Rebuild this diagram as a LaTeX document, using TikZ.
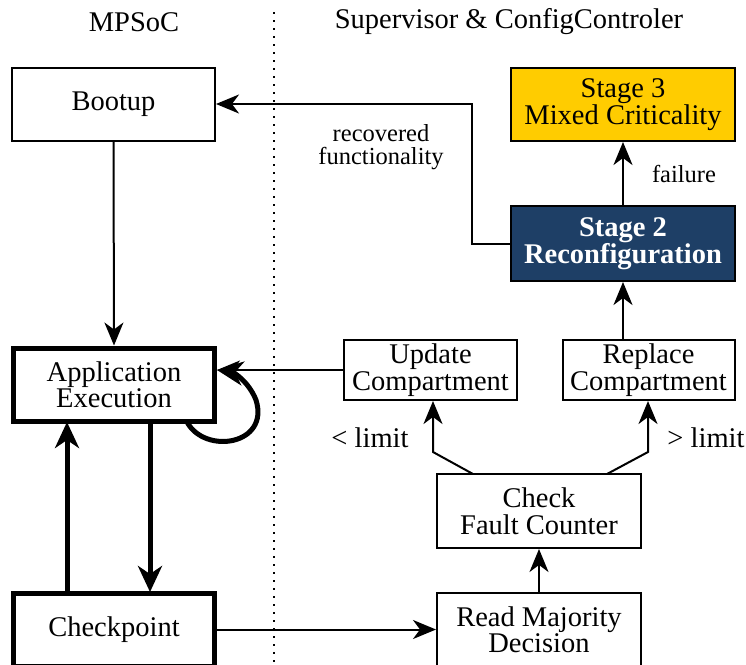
\documentclass[tikz,border=0pt]{standalone}
\usepackage{fontspec}
\setmainfont{Liberation Serif}
\usetikzlibrary{arrows.meta}
\definecolor{stageyellow}{RGB}{255,204,0}
\definecolor{stageblue}{RGB}{30,63,102}
\begin{document}
\begin{tikzpicture}[x=1pt,y=-1pt,
  box/.style={draw, line width=2pt, align=center, inner sep=0pt,
    font=\fontsize{28.5}{26.5}\selectfont},
  heavybox/.style={box, line width=5pt},
  lbl/.style={align=center, inner sep=0pt, font=\fontsize{24.5}{22.5}\selectfont},
  ttl/.style={inner sep=0pt, font=\fontsize{28.5}{26.5}\selectfont},
  conn/.style={line width=2pt, -{Stealth[length=23pt,width=19pt,inset=7pt]}},
  heavyconn/.style={line width=5pt, -{Stealth[length=26pt,width=24pt,inset=8pt]}}]
\useasboundingbox (0,0) rectangle (746,664);

\node[ttl] (mpsoc) at (134,22) {MPSoC};
\node[ttl] (sup) at (509,22) {Supervisor \& ConfigControler};
\coordinate (dtop) at (274,12);
\coordinate (dbot) at (274,664);
\draw[line width=2pt, dash pattern=on 2pt off 6pt] (dtop) -- (dbot);

\node[box, minimum width=203pt, minimum height=73pt] (boot) at (113.5,104.5) {Bootup};
\node[box, fill=stageyellow, minimum width=224pt, minimum height=73pt] (s3) at (623,104.5) {Stage 3\\Mixed Criticality};
\node[box, fill=stageblue, text=white, font=\fontsize{28.5}{26.5}\selectfont\bfseries, minimum width=224pt, minimum height=75pt] (s2) at (623,243.5) {Stage 2\\Reconfiguration};
\node[heavybox, minimum width=201pt, minimum height=73pt] (app) at (114,384.5) {Application\\Execution};
\node[box, minimum width=173pt, minimum height=60pt] (upd) at (430.5,370) {Update\\Compartment};
\node[box, minimum width=172pt, minimum height=60pt] (rep) at (648.5,370) {Replace\\Compartment};
\node[box, minimum width=204pt, minimum height=74pt] (chk) at (539,511) {Check\\Fault Counter};
\node[heavybox, minimum width=201pt, minimum height=73pt] (cp) at (114,629.5) {Checkpoint};
\node[box, minimum width=204pt, minimum height=74pt] (rmd) at (539,629.5) {Read Majority\\Decision};

% connectors
\draw[conn] (boot.south) -- (app.north);
\coordinate (k1) at (472,243.5);
\coordinate (k2) at (472,104);
\draw[conn] (s2.west) -- (k1) -- (k2) -- (boot.east |- k2);
\node[lbl] (rec) at (381,147) {recovered\\functionality};
\draw[conn] (s2.north) -- (s3.south);
\node[lbl] (fail) at (684,174) {failure};
\draw[conn] (s2.south |- rep.north) -- (s2.south);
\draw[conn] (upd.west) -- (app.east |- upd.west);

\coordinate (l1) at (473,474);
\coordinate (l2) at (433,452);
\coordinate (r1) at (607,474);
\coordinate (r2) at (648,452);
\draw[conn] (l1) -- (l2) -- (l2 |- upd.south);
\draw[conn] (r1) -- (r2) -- (r2 |- rep.south);
\node[lbl, font=\fontsize{28.5}{26.5}\selectfont] (lt) at (370,438) {< limit};
\node[lbl, font=\fontsize{28.5}{26.5}\selectfont] (gt) at (706,438) {> limit};

\draw[conn] (rmd.north) -- (chk.south);
\draw[conn] (cp.east) -- (rmd.west);

\draw[heavyconn] (67,592) -- (67,422);
\draw[heavyconn] (150,422) -- (150,592);

\coordinate (ls) at (187,422);
\coordinate (le) at (217,370);
\draw[heavyconn] (ls) .. controls (205,455) and (270,445) .. (256,400) .. controls (248,380) and (232,372) .. (le);
\end{tikzpicture}
\end{document}
